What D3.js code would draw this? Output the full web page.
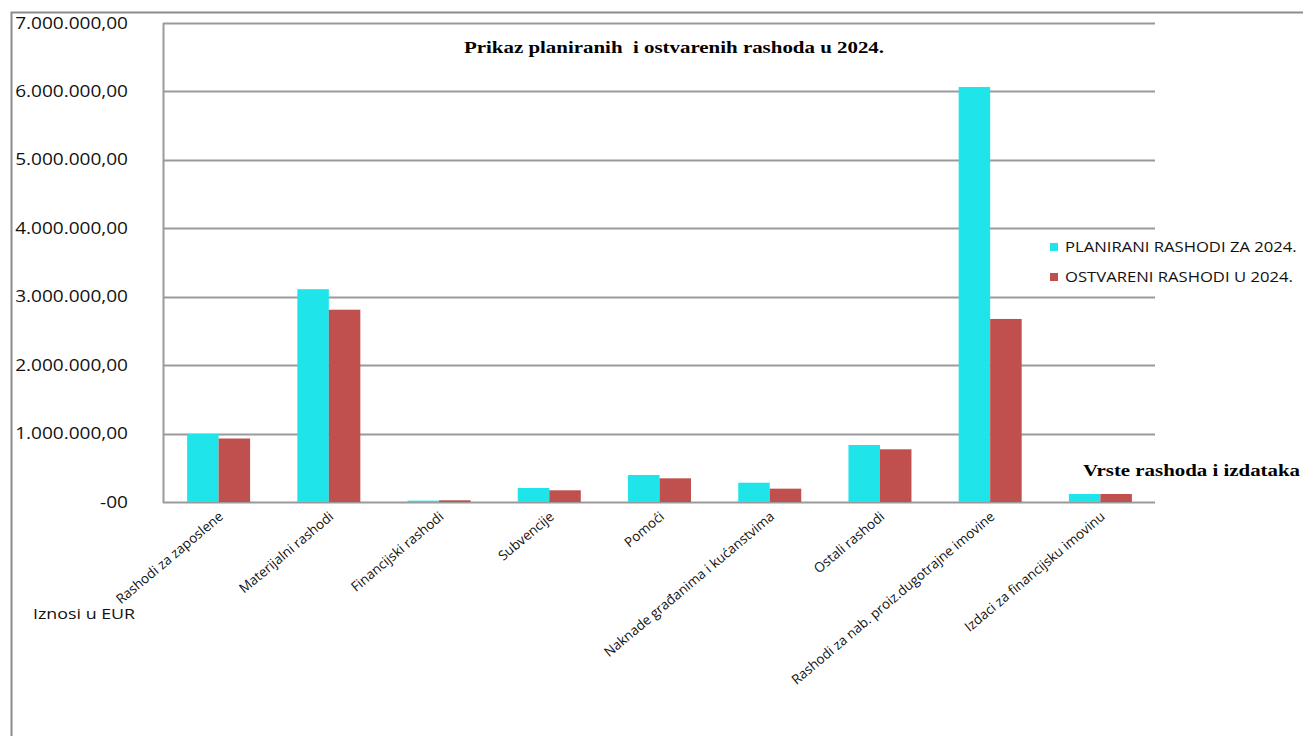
<!DOCTYPE html>
<html>
<head>
<meta charset="utf-8">
<script src="https://cdn.jsdelivr.net/npm/d3@7"></script>
<style>
  body { margin: 0; background: #fff; }
  svg { display: block; }
</style>
</head>
<body>
<div class="canvas"></div>
<script>

var categories = [
  "Rashodi za zaposlene",
  "Materijalni rashodi",
  "Financijski rashodi",
  "Subvencije",
  "Pomoći",
  "Naknade građanima i kućanstvima",
  "Ostali rashodi",
  "Rashodi za nab. proiz.dugotrajne imovine",
  "Izdaci za financijsku imovinu"
];

var planirani = [995000, 3110000, 20000, 205000, 395000, 282000, 833000, 6065000, 117000];
var ostvareni = [928000, 2810000, 25000, 171000, 346000, 195000, 770000, 2675000, 117000];

var seriesNames = ["PLANIRANI RASHODI ZA 2024.", "OSTVARENI RASHODI U 2024."];
var yTicks = [0, 1000000, 2000000, 3000000, 4000000, 5000000, 6000000, 7000000];

var COLORS = ["#1fe5eb", "#c0504d"];
var GRID = "#9a9a9a";
var SANS = "'Open Sans', 'Noto Sans', sans-serif";
var SERIF = "'Liberation Serif', 'DejaVu Serif', serif";
var SX = 1.19; // the original picture is a bit wider than tall

var width = 1303, height = 736;
var plot = { left: 163, right: 1155, top: 23, bottom: 502 };

var svg = d3.select(".canvas")
  .append("svg")
  .attr("width", width)
  .attr("height", height);

// outer frame (only left and top edges are visible)
svg.append("path")
  .attr("d", "M11.5," + height + "V12.5H" + width)
  .attr("fill", "none")
  .attr("stroke", "#8c8c8c")
  .attr("stroke-width", 2);

var x = d3.scaleBand()
  .domain(categories)
  .range([plot.left, plot.right]);

var x1 = d3.scaleBand()
  .domain([0, 1])
  .range([0, 63]);

var y = d3.scaleLinear()
  .domain([0, 7000000])
  .range([plot.bottom, plot.top]);

var fmt = function(v) {
  if (v === 0) return "-00";
  var s = d3.format(",.2f")(v);
  return s.replace(/,/g, "#").replace(".", ",").replace(/#/g, ".");
};

var stretch = function(px, py) {
  return "translate(" + px + "," + py + ")scale(" + SX + ",1)";
};

// grid lines
svg.append("g")
  .selectAll("line")
  .data(yTicks)
  .join("line")
  .attr("x1", plot.left)
  .attr("x2", plot.right)
  .attr("y1", function(d) { return Math.round(y(d)) + 0.5; })
  .attr("y2", function(d) { return Math.round(y(d)) + 0.5; })
  .attr("stroke", GRID)
  .attr("stroke-width", 2);

// left axis line
svg.append("line")
  .attr("x1", plot.left + 0.5)
  .attr("x2", plot.left + 0.5)
  .attr("y1", plot.top)
  .attr("y2", plot.bottom + 1)
  .attr("stroke", GRID)
  .attr("stroke-width", 2);

// y tick labels
svg.append("g")
  .selectAll("text")
  .data(yTicks)
  .join("text")
  .attr("transform", function(d) { return stretch(128, y(d)); })
  .attr("dy", "0.35em")
  .attr("text-anchor", "end")
  .attr("font-family", SANS)
  .attr("font-size", 16)
  .attr("fill", "#111")
  .text(fmt);

// bars
var groups = svg.append("g")
  .selectAll("g")
  .data(categories)
  .join("g")
  .attr("transform", function(d) {
    return "translate(" + (x(d) + x.bandwidth() / 2 - 31) + ",0)";
  });

groups.selectAll("rect")
  .data(function(d, i) { return [planirani[i], ostvareni[i]]; })
  .join("rect")
  .attr("x", function(d, j) { return x1(j); })
  .attr("width", x1.bandwidth())
  .attr("y", function(d) { return y(d); })
  .attr("height", function(d) { return plot.bottom - y(d); })
  .attr("fill", function(d, j) { return COLORS[j]; });

// x labels
svg.append("g")
  .selectAll("text")
  .data(categories)
  .join("text")
  .attr("transform", function(d) {
    return "translate(" + (x(d) + x.bandwidth() / 2 + 6) + "," + (plot.bottom + 16) + ")rotate(-40)";
  })
  .attr("text-anchor", "end")
  .attr("font-family", SANS)
  .attr("font-size", 13.5)
  .attr("fill", "#111")
  .text(function(d) { return d; });

// title
svg.append("text")
  .attr("x", 674)
  .attr("y", 53)
  .attr("text-anchor", "middle")
  .attr("font-family", SERIF)
  .attr("font-weight", "bold")
  .attr("font-size", 16)
  .attr("textLength", 420)
  .attr("lengthAdjust", "spacingAndGlyphs")
  .style("white-space", "pre")
  .attr("fill", "#000")
  .text("Prikaz planiranih  i ostvarenih rashoda u 2024.");

// axis titles
svg.append("text")
  .attr("x", 1083)
  .attr("y", 476)
  .attr("font-family", SERIF)
  .attr("font-weight", "bold")
  .attr("font-size", 17)
  .attr("textLength", 217)
  .attr("lengthAdjust", "spacingAndGlyphs")
  .attr("fill", "#000")
  .text("Vrste rashoda i izdataka");

svg.append("text")
  .attr("transform", stretch(33, 619))
  .attr("font-family", SANS)
  .attr("font-size", 15)
  .attr("fill", "#111")
  .text("Iznosi u EUR");

// legend
var legend = svg.append("g")
  .selectAll("g")
  .data(seriesNames)
  .join("g")
  .attr("transform", function(d, i) { return "translate(1050," + (247 + i * 30) + ")"; });

legend.append("rect")
  .attr("x", 0)
  .attr("y", -4)
  .attr("width", 8)
  .attr("height", 8)
  .attr("fill", function(d, i) { return COLORS[i]; });

legend.append("text")
  .attr("transform", stretch(15, 0))
  .attr("dy", "0.35em")
  .attr("font-family", SANS)
  .attr("font-size", 14)
  .attr("fill", "#111")
  .text(function(d) { return d; });

</script>
</body>
</html>
